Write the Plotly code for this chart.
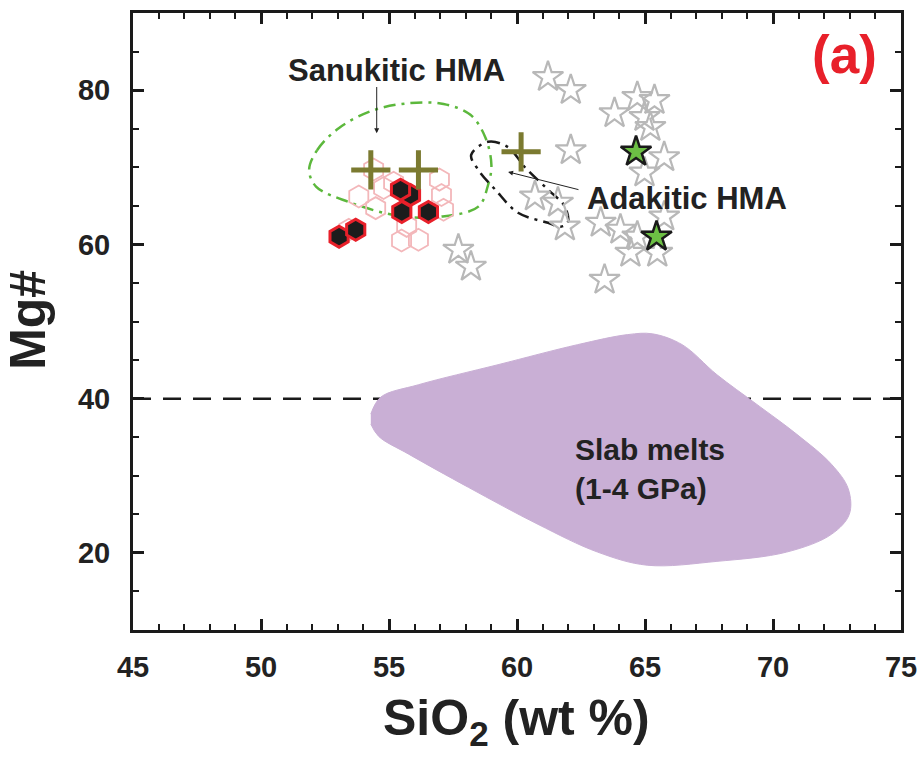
import plotly.graph_objects as go

# ---------------- data ----------------
# Black hexagons (red outline)
hex_x = [53.05, 53.7, 55.84, 55.45, 55.5, 56.54]
hex_y = [61.0, 61.9, 66.4, 67.1, 64.2, 64.2]

# Pink open hexagons
phex_x = [53.82, 54.48, 54.79, 55.18, 56.97, 57.05, 55.49, 56.15, 55.69, 53.43, 57.13, 54.4]
phex_y = [66.2, 64.7, 67.3, 68.0, 68.4, 66.4, 60.5, 60.6, 62.4, 61.9, 64.5, 69.7]

# Olive crosses
cross_x = [54.29, 56.15, 60.16]
cross_y = [69.65, 69.65, 72.0]

# Gray open stars
star_x = [61.21, 62.1, 64.7, 65.37, 63.81, 64.98, 65.21, 62.1, 65.75, 64.98, 60.7, 61.6,
          61.87, 63.27, 64.04, 64.7, 64.43, 65.48, 63.42, 57.71, 58.2, 65.75]
star_y = [81.7, 80.0, 79.1, 78.7, 77.0, 76.5, 75.2, 72.2, 71.3, 69.3, 66.2, 65.4,
          62.3, 62.8, 61.9, 61.0, 58.9, 58.9, 55.4, 59.3, 57.1, 63.6]

# Green stars
gstar_x = [64.65, 65.45]
gstar_y = [72.0, 61.0]

# Sanukitic HMA field
san_x = [51.88, 52.19, 53.05, 54.4, 55.77, 57.13, 58.18, 58.76, 59.0, 58.87, 58.49, 57.05,
         55.38, 53.43, 52.15, 51.88]
san_y = [69.65, 72.2, 75.1, 77.4, 78.3, 78.2, 76.8, 73.9, 70.3, 67.7, 64.9, 63.6,
         63.7, 65.5, 67.5, 69.65]

# Adakitic HMA field
ada_x = [58.21, 58.87, 59.65, 60.31, 61.21, 61.87, 61.98, 61.71, 61.21, 60.04, 59.15, 58.49, 58.21]
ada_y = [71.6, 73.3, 72.6, 70.0, 67.1, 64.9, 62.8, 62.3, 62.8, 64.1, 67.1, 69.65, 71.6]

# Slab melts field
slab_x = [54.29, 54.68, 56.15, 59.26, 62.37, 64.32, 65.29, 66.45, 67.81, 69.37, 70.92, 72.28,
          72.94, 72.98, 72.28, 70.53, 67.81, 65.09, 63.15, 60.82, 58.1, 55.77, 54.6, 54.29]
slab_y = [38.0, 40.2, 41.8, 44.4, 47.0, 48.3, 48.4, 47.0, 43.1, 39.25, 35.4, 31.5,
          28.3, 25.0, 22.4, 20.1, 18.9, 18.4, 20.1, 23.7, 28.5, 32.8, 35.1, 36.7]

# Reference line
ref_x = [45, 75]
ref_y = [40, 40]

x_ticks = [45, 50, 55, 60, 65, 70, 75]
y_ticks = [20, 40, 60, 80]

FONT = "Liberation Sans, Arial, sans-serif"

fig = go.Figure()

fig.add_trace(go.Scatter(x=ref_x, y=ref_y, mode="lines",
                         line=dict(color="#1a1a1a", width=2.5, dash="18px,12px"),
                         hoverinfo="skip"))
fig.add_trace(go.Scatter(x=slab_x, y=slab_y, mode="lines", fill="toself",
                         fillcolor="#c9afd5", line=dict(color="#c9afd5", width=1, shape="spline"),
                         hoverinfo="skip"))
fig.add_trace(go.Scatter(x=san_x, y=san_y, mode="lines",
                         line=dict(color="#5cb83c", width=2.5, dash="12px,6px,3px,6px", shape="spline"),
                         hoverinfo="skip"))
fig.add_trace(go.Scatter(x=ada_x, y=ada_y, mode="lines",
                         line=dict(color="#1a1a1a", width=2.5, dash="12px,6px,3px,6px", shape="spline"),
                         hoverinfo="skip"))
fig.add_trace(go.Scatter(x=phex_x, y=phex_y, mode="markers",
                         marker=dict(symbol="hexagon-open", size=22, color="#f3b7ba",
                                     line=dict(width=1.8, color="#f3b7ba"))))
fig.add_trace(go.Scatter(x=star_x, y=star_y, mode="markers",
                         marker=dict(symbol="star-open", size=23, color="#b8b8b8",
                                     line=dict(width=2.2, color="#b8b8b8"))))
fig.add_trace(go.Scatter(x=hex_x, y=hex_y, mode="markers",
                         marker=dict(symbol="hexagon", size=21, color="#1c1c1c",
                                     line=dict(width=3, color="#e8202a"))))
fig.add_trace(go.Scatter(x=cross_x, y=cross_y, mode="markers",
                         marker=dict(symbol="cross-thin", size=28, color="#7b7a30",
                                     line=dict(width=5, color="#7b7a30"))))
fig.add_trace(go.Scatter(x=gstar_x, y=gstar_y, mode="markers",
                         marker=dict(symbol="star", size=23, color="#6cbf44",
                                     line=dict(width=2.5, color="#1a1a1a"))))

annotations = [
    dict(x=55.31, y=82.6, text="Sanukitic HMA", showarrow=False,
         font=dict(family=FONT, size=31, color="#222222", weight="bold")),
    dict(x=54.52, y=74.4, ax=54.52, ay=80.6, axref="x", ayref="y", xref="x", yref="y",
         text="", showarrow=True, arrowhead=2, arrowsize=1, arrowwidth=1, arrowcolor="#222222"),
    dict(x=62.66, y=66.0, text="Adakitic HMA", showarrow=False, xanchor="left",
         font=dict(family=FONT, size=31, color="#222222", weight="bold")),
    dict(x=59.65, y=69.4, ax=62.46, ay=67.05, axref="x", ayref="y", xref="x", yref="y",
         text="", showarrow=True, arrowhead=2, arrowsize=1, arrowwidth=1, arrowcolor="#222222"),
    dict(x=62.19, y=30.9, text="Slab melts<br>(1-4 GPa)", showarrow=False, xanchor="left",
         align="left", font=dict(family=FONT, size=30, color="#222222", weight="bold")),
    dict(x=72.8, y=84.6, text="(a)", showarrow=False,
         font=dict(family=FONT, size=53, color="#e8202a", weight="bold")),
    dict(xref="paper", yref="paper", x=0.499, y=-0.148, text="SiO<sub>2</sub> (wt %)",
         showarrow=False, yanchor="middle",
         font=dict(family=FONT, size=50, color="#222222", weight="bold")),
    dict(xref="paper", yref="paper", x=-0.136, y=0.502, text="Mg#", textangle=-90,
         showarrow=False, xanchor="center", yanchor="middle",
         font=dict(family=FONT, size=50, color="#222222", weight="bold")),
]

axis_common = dict(showline=True, linewidth=3, linecolor="#1a1a1a", mirror="ticks",
                   ticks="inside", ticklen=11, tickwidth=2.5, tickcolor="#1a1a1a",
                   showgrid=False, zeroline=False, automargin=False,
                   tickfont=dict(family=FONT, size=29, color="#222222", weight="bold"))

fig.update_layout(
    width=921, height=762,
    margin=dict(l=133, r=20, t=13, b=132),
    paper_bgcolor="white", plot_bgcolor="white",
    showlegend=False,
    annotations=annotations,
    xaxis=dict(range=[45, 75], tickvals=x_ticks, ticklabelstandoff=9,
               minor=dict(ticks="inside", ticklen=6, tickwidth=2, dtick=1, tickcolor="#1a1a1a"),
               **axis_common),
    yaxis=dict(range=[10, 90], tickvals=y_ticks, ticklabelstandoff=14,
               minor=dict(ticks="inside", ticklen=6, tickwidth=2, dtick=5, tickcolor="#1a1a1a"),
               **axis_common),
)

fig.write_html("out.html")
